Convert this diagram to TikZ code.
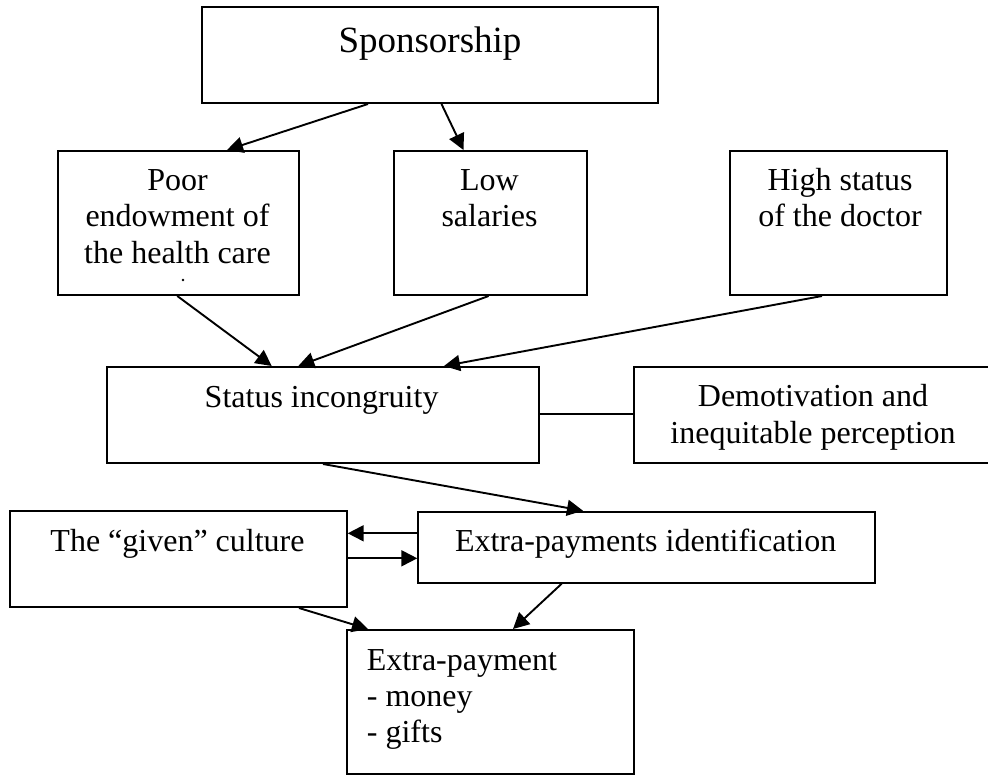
\documentclass[tikz,border=0pt]{standalone}
\usepackage{fontspec}
\setmainfont{Liberation Serif}
\usetikzlibrary{arrows.meta}
\begin{document}
\begin{tikzpicture}[x=1pt,y=-1pt,
  box/.style={draw, line width=2pt, rectangle, inner sep=0pt, anchor=north west},
  txt/.style={anchor=base, inner sep=0pt, font=\fontsize{32}{36.8}\selectfont},
  ltxt/.style={txt, anchor=base west},
  arr/.style={line width=1.9pt, -{Triangle[length=16pt,width=16pt]}},
  lnk/.style={line width=2pt}]
\useasboundingbox (0,0) rectangle (988,774);
\fill[white] (0,0) rectangle (988,774);
% boxes
\node[box, minimum width=456pt, minimum height=96pt] (spons) at (201,6) {};
\node[box, minimum width=241pt, minimum height=144pt] (poor) at (57,150) {};
\node[box, minimum width=193pt, minimum height=144pt] (low) at (393,150) {};
\node[box, minimum width=217pt, minimum height=144pt] (high) at (729,150) {};
\node[box, minimum width=432pt, minimum height=96pt] (status) at (105.7,366) {};
\node[box, minimum width=362pt, minimum height=96pt] (demo) at (633,366) {};
\node[box, minimum width=336.7pt, minimum height=96pt] (given) at (9,510) {};
\node[box, minimum width=456.7pt, minimum height=71pt] (extraid) at (417.3,510.7) {};
\node[box, minimum width=287.3pt, minimum height=144pt] (extrapay) at (345.7,629) {};
% texts
\node[txt, font=\fontsize{37}{42}\selectfont] (tspons) at (430,52) {Sponsorship};
\node[txt] (tpoor1) at (177.5,190) {Poor};
\node[txt] (tpoor2) at (177.5,226.8) {endowment of};
\node[txt] (tpoor3) at (177.5,263.3) {the health care};
\fill (183,280) circle (1.4);
\node[txt] (tlow1) at (489.5,190) {Low};
\node[txt] (tlow2) at (489.5,226.7) {salaries};
\node[txt] (thigh1) at (840,190) {High status};
\node[txt] (thigh2) at (840,226.7) {of the doctor};
\node[txt] (tstatus) at (321.6,407) {Status incongruity};
\node[txt] (tdemo1) at (813,406) {Demotivation and};
\node[txt] (tdemo2) at (813,443) {inequitable perception};
\node[txt] (tgiven) at (177.5,551) {The “given” culture};
\node[txt] (textraid) at (645.6,551) {Extra-payments identification};
\node[ltxt] (tpay1) at (366.7,670) {Extra-payment};
\node[ltxt] (tpay2) at (366.7,706.7) {- money};
\node[ltxt] (tpay3) at (366.7,742) {- gifts};
% connectors
\draw[arr] (368,0 |- spons.south) -- (227,0 |- poor.north);
\draw[arr] (441.5,0 |- spons.south) -- (463.5,0 |- low.north);
\draw[arr] (177.3,0 |- poor.south) -- (271.7,0 |- status.north);
\draw[arr] (488.6,0 |- low.south) -- (298.3,0 |- status.north);
\draw[arr] (822,0 |- high.south) -- (444,0 |- status.north);
\draw[lnk] (status.east |- 0,414) -- (demo.west |- 0,414);
\draw[arr] (323,0 |- status.south) -- (583,0 |- extraid.north);
\draw[arr] (extraid.west |- 0,533.3) -- (given.east |- 0,533.3);
\draw[arr] (given.east |- 0,558.3) -- (extraid.west |- 0,558.3);
\draw[arr] (299,0 |- given.south) -- (368,0 |- extrapay.north);
\draw[arr] (561.7,0 |- extraid.south) -- (513,0 |- extrapay.north);
\end{tikzpicture}
\end{document}
